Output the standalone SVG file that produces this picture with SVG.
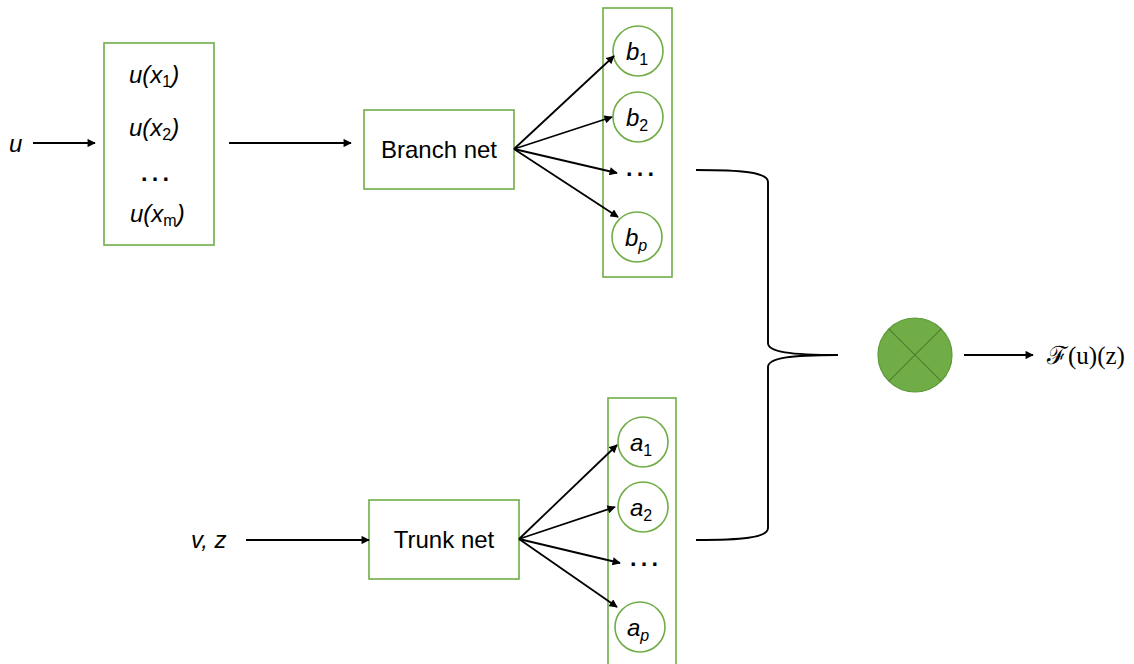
<svg xmlns="http://www.w3.org/2000/svg" width="1134" height="664" viewBox="0 0 1134 664">
  <style>
    .box { fill: #ffffff; stroke: #70AD47; stroke-width: 1.6; }
    .unit { fill: #ffffff; stroke: #70AD47; stroke-width: 1.6; }
    .lbl { font-family: "Liberation Sans", Arial, sans-serif; font-size: 24px; fill: #000; }
    .dots { font-family: "Liberation Sans", Arial, sans-serif; font-size: 34px; fill: #000; }
    .math { font-family: "Liberation Sans", Arial, sans-serif; font-size: 24px; font-style: italic; fill: #000; }
    .sub { font-size: 16px; font-style: normal; }
    .subi { font-size: 16px; font-style: italic; }
    .edge { stroke: #000; stroke-width: 1.8; fill: none; marker-end: url(#arrow); }
    .brace { stroke: #000; stroke-width: 1.9; fill: none; }
  </style>
  <defs>
    <marker id="arrow" viewBox="0 0 10 10" refX="9" refY="5" markerWidth="5" markerHeight="4.6" orient="auto" markerUnits="strokeWidth">
      <path d="M0,0 L10,5 L0,10 z" fill="#000"/>
    </marker>
  </defs>
  <rect width="1134" height="664" fill="#ffffff"/>

  <!-- input function samples -->
  <g id="input-u">
    <text class="math" x="9" y="152">u</text>
  </g>
  <g id="samples">
    <rect class="box" x="104" y="43" width="110" height="202"/>
    <text class="math" x="129" y="83">u(x<tspan class="sub" dy="4">1</tspan><tspan dy="-4">)</tspan></text>
    <text class="math" x="129" y="136">u(x<tspan class="sub" dy="4">2</tspan><tspan dy="-4">)</tspan></text>
    <text class="dots" x="155" y="181" text-anchor="middle">…</text>
    <text class="math" x="130" y="222">u(x<tspan class="sub" dy="4">m</tspan><tspan dy="-4">)</tspan></text>
  </g>

  <!-- branch network and its outputs -->
  <g id="branch-net">
    <rect class="box" x="364" y="110" width="150" height="79"/>
    <text class="lbl" x="439" y="158" text-anchor="middle">Branch net</text>
  </g>
  <g id="branch-outputs">
    <rect class="box" x="603" y="8" width="69" height="269"/>
    <circle class="unit" cx="638" cy="51" r="25"/>
    <text class="math" x="626" y="60">b<tspan class="sub" dy="5">1</tspan></text>
    <circle class="unit" cx="638" cy="117" r="25"/>
    <text class="math" x="626" y="126">b<tspan class="sub" dy="5">2</tspan></text>
    <text class="dots" x="640" y="176" text-anchor="middle">…</text>
    <circle class="unit" cx="637" cy="237" r="25"/>
    <text class="math" x="625" y="246">b<tspan class="subi" dy="5">p</tspan></text>
  </g>

  <!-- trunk network and its outputs -->
  <g id="input-vz">
    <text class="math" x="191" y="548">v, z</text>
  </g>
  <g id="trunk-net">
    <rect class="box" x="369" y="500" width="150" height="79"/>
    <text class="lbl" x="444" y="548" text-anchor="middle">Trunk net</text>
  </g>
  <g id="trunk-outputs">
    <rect class="box" x="608" y="398" width="68" height="280"/>
    <circle class="unit" cx="643" cy="442" r="25"/>
    <text class="math" x="630" y="451">a<tspan class="sub" dy="5">1</tspan></text>
    <circle class="unit" cx="643" cy="507" r="25"/>
    <text class="math" x="630" y="516">a<tspan class="sub" dy="5">2</tspan></text>
    <text class="dots" x="644" y="566" text-anchor="middle">…</text>
    <circle class="unit" cx="640" cy="627" r="25"/>
    <text class="math" x="627" y="636">a<tspan class="subi" dy="5">p</tspan></text>
  </g>

  <!-- product node -->
  <g id="product">
    <circle cx="915" cy="355" r="37" fill="#70AD47" stroke="#5B9A3A" stroke-width="1.2"/>
    <line x1="888.8" y1="328.8" x2="941.2" y2="381.2" stroke="#4E7F30" stroke-width="1.2"/>
    <line x1="941.2" y1="328.8" x2="888.8" y2="381.2" stroke="#4E7F30" stroke-width="1.2"/>
  </g>
  <g id="result">
    <text x="1047" y="364" font-family="'Liberation Serif', 'DejaVu Serif', serif" font-size="25" fill="#000">ℱ(u)(z)</text>
  </g>

  <!-- connectors -->
  <g id="connectors">
    <line class="edge" x1="33" y1="143" x2="95" y2="143"/>
    <line class="edge" x1="229" y1="143" x2="351" y2="143"/>
    <line class="edge" x1="514" y1="149" x2="614" y2="56"/>
    <line class="edge" x1="514" y1="149" x2="612" y2="117"/>
    <line class="edge" x1="514" y1="149" x2="617" y2="173"/>
    <line class="edge" x1="514" y1="149" x2="618" y2="217"/>
    <line class="edge" x1="246" y1="540" x2="369" y2="540"/>
    <line class="edge" x1="519" y1="539" x2="617" y2="445"/>
    <line class="edge" x1="519" y1="539" x2="615" y2="507"/>
    <line class="edge" x1="519" y1="539" x2="620" y2="563"/>
    <line class="edge" x1="519" y1="539" x2="617" y2="607"/>
    <line class="edge" x1="964" y1="355" x2="1033" y2="355"/>
    <path class="brace" d="M696,170 C740,170 768,172 768,182 L768,343 C768,352 790,355 838,355 C790,355 768,358 768,367 L768,528 C768,538 740,540 696,540"/>
  </g>
</svg>
